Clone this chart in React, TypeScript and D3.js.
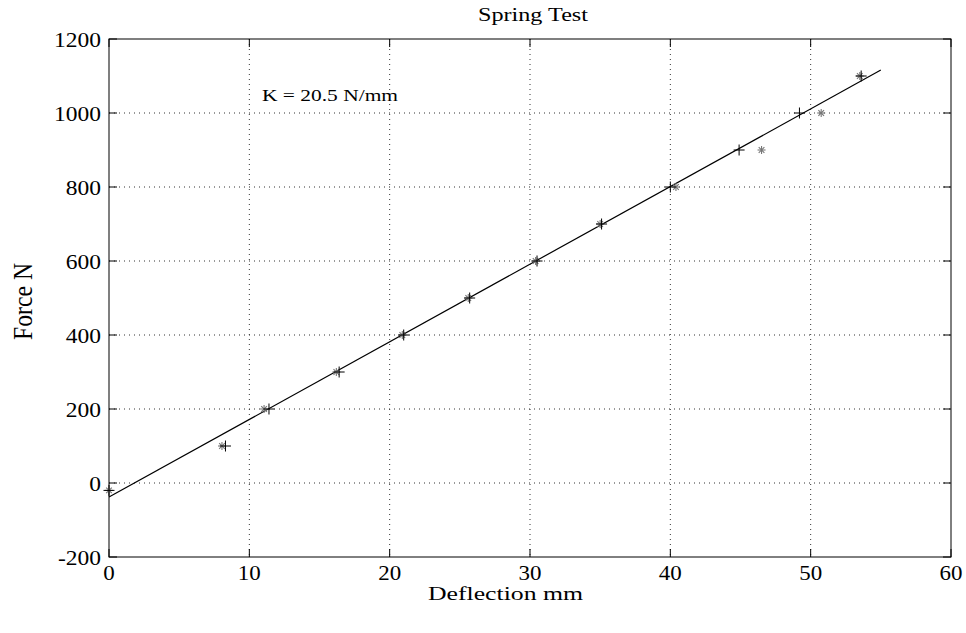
import React from "react";
import * as d3 from "d3";

// Measured spring deflection (mm) and applied force (N)
const plusDeflection = [0, 8.3, 11.4, 16.4, 21.0, 25.7, 30.5, 35.1, 40.0, 44.9, 49.2, 53.6];
const plusForce = [-20, 100, 200, 300, 400, 500, 600, 700, 800, 900, 1000, 1100];
const starDeflection = [0, 8.05, 11.05, 16.2, 20.9, 25.6, 30.4, 35.0, 40.4, 46.5, 50.75, 53.5];
const starForce = [-20, 100, 200, 300, 400, 500, 600, 700, 800, 900, 1000, 1100];

// Least-squares fit line endpoints
const fitDeflection = [0, 55];
const fitForce = [-38, 1116];

const xTicks = [0, 10, 20, 30, 40, 50, 60];
const yTicks = [-200, 0, 200, 400, 600, 800, 1000, 1200];

const titleText = "Spring Test";
const xLabel = "Deflection mm";
const yLabel = "Force N";
const annotation = "K = 20.5 N/mm";

const W = 966;
const H = 633;
const left = 109;
const right = 951;
const top = 39;
const bottom = 557;
const font = "'Liberation Serif', 'Times New Roman', serif";

export default function App() {
  const x = d3.scaleLinear().domain([0, 60]).range([left, right]);
  const y = d3.scaleLinear().domain([-200, 1200]).range([bottom, top]);
  const line = d3
    .line<number>()
    .x((_, i) => x(fitDeflection[i]))
    .y((d) => y(d));
  const tick = 8;
  const plusSize = 5.5;
  const starSize = 4;
  const tickScale = 1.12;

  return (
    <svg
      width={W}
      height={H}
      style={{ position: "absolute", left: 0, top: 0, background: "#fff" }}
    >
      <rect x={0} y={0} width={W} height={H} fill="#fff" />
      {/* grid */}
      {xTicks.slice(1, -1).map((t) => (
        <line
          key={"gx" + t}
          x1={x(t)}
          x2={x(t)}
          y1={top}
          y2={bottom}
          stroke="#333"
          strokeWidth={1}
          strokeDasharray="1,4"
        />
      ))}
      {yTicks.slice(1, -1).map((t) => (
        <line
          key={"gy" + t}
          x1={left}
          x2={right}
          y1={y(t)}
          y2={y(t)}
          stroke="#333"
          strokeWidth={1}
          strokeDasharray="1,4"
        />
      ))}
      {/* ticks on all sides */}
      {xTicks.map((t) => (
        <g key={"tx" + t} stroke="#000" strokeWidth={1}>
          <line x1={x(t)} x2={x(t)} y1={bottom} y2={bottom - tick} />
          <line x1={x(t)} x2={x(t)} y1={top} y2={top + tick} />
        </g>
      ))}
      {yTicks.map((t) => (
        <g key={"ty" + t} stroke="#000" strokeWidth={1}>
          <line x1={left} x2={left + tick} y1={y(t)} y2={y(t)} />
          <line x1={right} x2={right - tick} y1={y(t)} y2={y(t)} />
        </g>
      ))}
      <rect
        x={left}
        y={top}
        width={right - left}
        height={bottom - top}
        fill="none"
        stroke="#000"
        strokeWidth={1}
      />
      {/* tick labels */}
      {xTicks.map((t) => (
        <text
          key={"lx" + t}
          transform={`translate(${x(t)},${580}) scale(${tickScale},1)`}
          textAnchor="middle"
          fontFamily={font}
          fontSize={20.5}
        >
          {t}
        </text>
      ))}
      {yTicks.map((t) => (
        <text
          key={"ly" + t}
          transform={`translate(${left - 8},${y(t) + 7.7}) scale(${tickScale},1)`}
          textAnchor="end"
          fontFamily={font}
          fontSize={21}
        >
          {t}
        </text>
      ))}
      {/* fit line */}
      <path d={line(fitForce) || ""} fill="none" stroke="#000" strokeWidth={1.2} />
      {/* asterisk markers */}
      {starDeflection.map((d, i) => {
        const cx = x(d);
        const cy = y(starForce[i]);
        const s = starSize;
        const k = s * 0.707;
        return (
          <g key={"s" + i} stroke="#777" strokeWidth={1.1}>
            <line x1={cx - s} x2={cx + s} y1={cy} y2={cy} />
            <line x1={cx} x2={cx} y1={cy - s} y2={cy + s} />
            <line x1={cx - k} x2={cx + k} y1={cy - k} y2={cy + k} />
            <line x1={cx - k} x2={cx + k} y1={cy + k} y2={cy - k} />
          </g>
        );
      })}
      {/* plus markers */}
      {plusDeflection.map((d, i) => {
        const cx = x(d);
        const cy = y(plusForce[i]);
        const s = plusSize;
        return (
          <g key={"p" + i} stroke="#000" strokeWidth={1}>
            <line x1={cx - s} x2={cx + s} y1={cy} y2={cy} />
            <line x1={cx} x2={cx} y1={cy - s} y2={cy + s} />
          </g>
        );
      })}
      {/* text */}
      <text
        x={478}
        y={21}
        fontFamily={font}
        fontSize={18}
        textLength={110}
        lengthAdjust="spacingAndGlyphs"
      >
        {titleText}
      </text>
      <text
        x={428}
        y={600}
        fontFamily={font}
        fontSize={18.5}
        textLength={155}
        lengthAdjust="spacingAndGlyphs"
      >
        {xLabel}
      </text>
      <text
        transform={`translate(32,${340}) rotate(-90) scale(1,1.3)`}
        fontFamily={font}
        fontSize={21}
        textLength={77}
        lengthAdjust="spacingAndGlyphs"
      >
        {yLabel}
      </text>
      <text
        x={262}
        y={101}
        fontFamily={font}
        fontSize={17.5}
        textLength={136}
        lengthAdjust="spacingAndGlyphs"
      >
        {annotation}
      </text>
    </svg>
  );
}
